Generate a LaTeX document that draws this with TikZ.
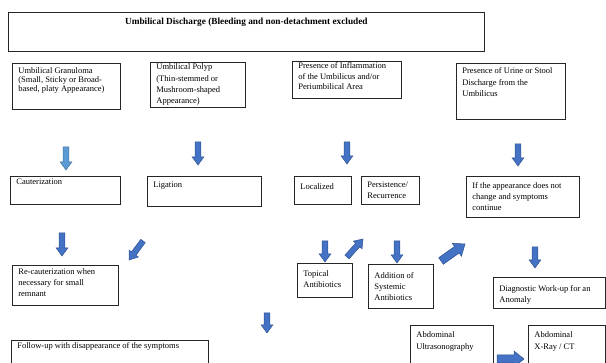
\documentclass[tikz,border=0pt]{standalone}
\usepackage{fontspec}
\setmainfont{Liberation Serif}
\usetikzlibrary{calc}
\definecolor{flowblue}{HTML}{4472C4}
\definecolor{flowedge}{HTML}{2F528F}
\definecolor{paleblue}{HTML}{5B9BD5}
\definecolor{paleedge}{HTML}{41719C}
\newcommand{\cellbody}[4]{\parbox[c][#2pt][t]{\dimexpr#1pt-12pt\relax}{\raggedright\vspace*{#3pt}#4}}
\tikzset{cell/.style={draw=black!85,line width=0.75pt,inner xsep=6pt,inner ysep=0pt,
                anchor=north west,font=\fontsize{8.5}{11.3}\selectfont}}
\tikzset{flowshaft/.store in=\flowshaft,flowshaft=2.8pt,
         flowhead/.store in=\flowhead,flowhead=5.8pt,
         flowtip/.store in=\flowtip,flowtip=8pt}
\tikzset{flow/.style={draw=flowedge,fill=flowblue,line width=0.5pt,line join=miter,
  to path={($(\tikztostart)!\flowshaft!90:(\tikztotarget)$)
   -- ($(\tikztotarget)!\flowtip!(\tikztostart)!\flowshaft!-90:(\tikztostart)$)
   -- ($(\tikztotarget)!\flowtip!(\tikztostart)!\flowhead!-90:(\tikztostart)$)
   -- (\tikztotarget)
   -- ($(\tikztotarget)!\flowtip!(\tikztostart)!\flowhead!90:(\tikztostart)$)
   -- ($(\tikztotarget)!\flowtip!(\tikztostart)!\flowshaft!90:(\tikztostart)$)
   -- ($(\tikztostart)!\flowshaft!-90:(\tikztotarget)$) -- cycle}}}
\tikzset{pale/.style={draw=paleedge,fill=paleblue}}
\tikzset{wide/.style={flowshaft=4pt,flowhead=8pt,flowtip=10pt}}

\begin{document}
\begin{tikzpicture}[x=1pt,y=-1pt]
\useasboundingbox (0,0) rectangle (606,363);
\clip (0,0) rectangle (606,363);
% title
\node[cell,inner xsep=0pt,font=\fontsize{9.3}{11}\selectfont] (title) at (8,12)
  {\parbox[c][39pt][t]{476pt}{\centering\vspace*{5.5pt}\bfseries Umbilical Discharge (Bleeding and non-detachment excluded}};
% first row
\node[cell] (gran) at (12,63) {\cellbody{108}{46}{4.5}{\baselineskip=8.8pt Umbilical Granuloma\\(Small, Sticky or Broad-\\based, platy Appearance)}};
\node[cell] (polyp) at (150,62) {\cellbody{95}{45}{1.5}{Umbilical Polyp\\(Thin-stemmed or\\Mushroom-shaped\\Appearance)}};
\node[cell] (inflam) at (292,61) {\cellbody{109}{37}{1.5}{\baselineskip=10.5pt Presence of Inflammation\\of the Umbilicus and/or\\Periumbilical Area}};
\node[cell] (urine) at (456,63) {\cellbody{109}{56}{4.5}{Presence of Urine or Stool\\Discharge from the\\Umbilicus}};
% second row
\node[cell] (caut) at (10,176) {\cellbody{110}{28}{3}{Cauterization}};
\node[cell] (lig) at (147,176) {\cellbody{114}{30}{5}{Ligation}};
\node[cell] (local) at (294,176) {\cellbody{57}{28}{7}{Localized}};
\node[cell] (persist) at (361,176) {\cellbody{58}{28}{5.5}{Persistence/\\Recurrence}};
\node[cell] (ifapp) at (466,176) {\cellbody{113}{41}{6}{If the appearance does not\\change and symptoms\\continue}};
% third row
\node[cell] (recaut) at (12,265) {\cellbody{106}{40}{3}{Re-cauterization when\\necessary for small\\remnant}};
\node[cell] (topical) at (297,263) {\cellbody{55}{34}{7}{Topical\\Antibiotics}};
\node[cell] (addsys) at (368,264) {\cellbody{65}{44}{8}{Addition of\\Systemic\\Antibiotics}};
\node[cell] (diag) at (493,277) {\cellbody{112}{31}{8}{Diagnostic Work-up for an\\Anomaly}};
% bottom row
\node[cell] (follow) at (11,340) {\cellbody{197}{40}{2.5}{Follow-up with disappearance of the symptoms}};
\node[cell] (ultra) at (410,325) {\cellbody{83}{60}{6.5}{Abdominal\\Ultrasonography}};
\node[cell] (xray) at (528,325) {\cellbody{77}{60}{6.5}{Abdominal\\X-Ray / CT}};
% block arrows
\coordinate (a1s) at (66,147); \coordinate (a1e) at (66,170);
\draw[flow,pale] (a1s) to (a1e);
\coordinate (a2s) at (198,142); \coordinate (a2e) at (198,165);
\draw[flow] (a2s) to (a2e);
\coordinate (a3s) at (347,142); \coordinate (a3e) at (347,164);
\draw[flow] (a3s) to (a3e);
\coordinate (a4s) at (518,144); \coordinate (a4e) at (518,166);
\draw[flow] (a4s) to (a4e);
\coordinate (a5s) at (62,233); \coordinate (a5e) at (62,256);
\draw[flow] (a5s) to (a5e);
\coordinate (a6s) at (143,241); \coordinate (a6e) at (129,260);
\draw[flow] (a6s) to (a6e);
\coordinate (a7s) at (325,241); \coordinate (a7e) at (325,262);
\draw[flow] (a7s) to (a7e);
\coordinate (a8s) at (347,257); \coordinate (a8e) at (363,239);
\draw[flow] (a8s) to (a8e);
\coordinate (a9s) at (397,241); \coordinate (a9e) at (397,263);
\draw[flow] (a9s) to (a9e);
\coordinate (a10s) at (441,261); \coordinate (a10e) at (465,244);
\draw[flow,wide] (a10s) to (a10e);
\coordinate (a11s) at (535,247); \coordinate (a11e) at (535,268);
\draw[flow] (a11s) to (a11e);
\coordinate (a12s) at (267,313); \coordinate (a12e) at (267,333);
\draw[flow] (a12s) to (a12e);
\coordinate (a13s) at (497,359); \coordinate (a13e) at (524,359);
\draw[flow,wide] (a13s) to (a13e);
\end{tikzpicture}
\end{document}
